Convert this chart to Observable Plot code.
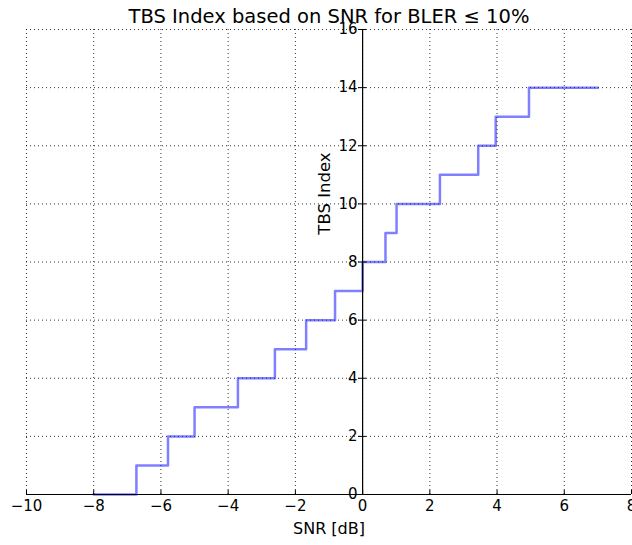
<!DOCTYPE html>
<html>
<head>
<meta charset="utf-8">
<script src="https://cdn.jsdelivr.net/npm/d3@7"></script>
<script src="https://cdn.jsdelivr.net/npm/@observablehq/plot@0.6"></script>
<style>
  html, body { margin: 0; padding: 0; background: white; }
</style>
</head>
<body>
<div id="chart"></div>
<script>
const snr = [-8, -6.73, -5.79, -5.0, -3.71, -2.61, -1.68, -0.82, 0, 0.68, 1.01, 2.30, 3.44, 3.96, 4.95, 7];
const tbs = [0, 1, 2, 3, 4, 5, 6, 7, 8, 9, 10, 11, 12, 13, 14, 14];
const xTicks = [-10, -8, -6, -4, -2, 0, 2, 4, 6, 8];
const yTicks = [0, 2, 4, 6, 8, 10, 12, 14, 16];
const title = "TBS Index based on SNR for BLER ≤ 10%";
const xLabel = "SNR [dB]";
const yLabel = "TBS Index";

const data = snr.map((x, i) => ({x, y: tbs[i]}));
const fmt = d3.format("d");
const dotted = {stroke: "#000", strokeWidth: 1, strokeDasharray: "1,3", strokeOpacity: 0.8};

const chart = Plot.plot({
  width: 632,
  height: 545,
  marginLeft: 26,
  marginRight: 1,
  marginTop: 29,
  marginBottom: 51,
  x: {domain: [-10, 8], axis: null},
  y: {domain: [0, 16], axis: null},
  style: {fontFamily: "DejaVu Sans", fontSize: "15px", background: "white", color: "black", overflow: "visible"},
  marks: [
    Plot.ruleX(xTicks, dotted),
    Plot.ruleY(yTicks, dotted),
    Plot.line(data, {x: "x", y: "y", curve: "step-after", stroke: "blue", strokeOpacity: 0.5, strokeWidth: 2.5}),
    Plot.ruleX([0], {stroke: "black", strokeWidth: 1.2}),
    Plot.ruleY([0], {stroke: "black", strokeWidth: 1.2}),
    Plot.ruleX(xTicks, {x: d => d, y1: 0, y2: 0.14, stroke: "black"}),
    Plot.ruleY(yTicks, {y: d => d, x1: -0.12, x2: 0.12, stroke: "black"}),
    Plot.text(xTicks, {x: d => d, y: 0, text: d => fmt(d), lineAnchor: "top", dy: 6, fontSize: 15}),
    Plot.text(yTicks, {x: 0, y: d => d, text: d => fmt(d), textAnchor: "end", dx: -5, fontSize: 15}),
    Plot.text([xLabel], {frameAnchor: "bottom", text: d => d, dy: 39, fontSize: 16}),
    Plot.text([yLabel], {frameAnchor: "top-left", text: d => d, textAnchor: "middle", dx: 292, dy: 164, rotate: -90, fontSize: 16.5}),
    Plot.text([title], {frameAnchor: "top", text: d => d, dy: -13, fontSize: 19.5, lineAnchor: "middle"})
  ]
});
document.getElementById("chart").appendChild(chart);
</script>
</body>
</html>
